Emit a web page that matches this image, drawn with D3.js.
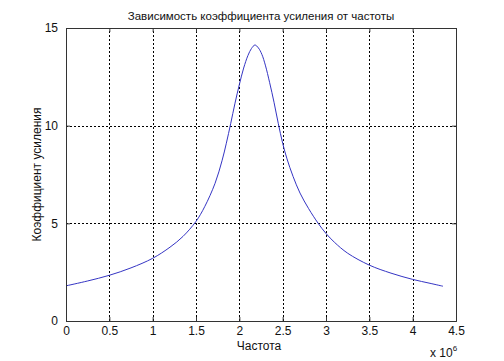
<!DOCTYPE html>
<html>
<head>
<meta charset="utf-8">
<script src="https://cdn.jsdelivr.net/npm/d3@7"></script>
<style>
  body { margin: 0; background: #fff; }
  svg text { font-family: "Liberation Sans", Arial, sans-serif; fill: #111; }
</style>
</head>
<body>
<div id="chart"></div>
<script>
// frequency in units of 1e6, gain
const freq = [0, 0.25, 0.5, 0.75, 1.0, 1.2, 1.35, 1.5, 1.6, 1.72, 1.8, 1.85, 1.9, 1.95, 2.0, 2.05,
  2.1, 2.14, 2.18, 2.22, 2.26, 2.3, 2.35, 2.4, 2.45, 2.5, 2.55, 2.62, 2.7, 2.8, 2.91, 3.0,
  3.1, 3.25, 3.5, 3.75, 4.0, 4.2, 4.35];
const gain = [1.80, 2.05, 2.34, 2.72, 3.21, 3.78, 4.33, 5.1, 5.85, 7.05, 8.2, 9.1, 10.1, 11.15, 12.1, 12.95,
  13.6, 13.95, 14.13, 13.98, 13.65, 13.1, 12.2, 11.2, 10.1, 9.1, 8.3, 7.4, 6.55, 5.75, 5.0, 4.48,
  4.02, 3.47, 2.86, 2.45, 2.13, 1.93, 1.78];

const xTicks = [0, 0.5, 1, 1.5, 2, 2.5, 3, 3.5, 4, 4.5];
const yTicks = [0, 5, 10, 15];

const title = 'Зависимость коэффициента усиления от частоты';
const xLabel = 'Частота';
const yLabel = 'Коэффициент усиления';

const width = 504;
const height = 361;
const margin = { top: 28, right: 48, bottom: 40, left: 66 };

const svg = d3.select('#chart')
  .append('svg')
  .attr('width', width)
  .attr('height', height);

const xScale = d3.scaleLinear().domain([0, 4.5]).range([margin.left, width - margin.right]);
const yScale = d3.scaleLinear().domain([0, 15]).range([height - margin.bottom, margin.top]);

// grid
const grid = svg.append('g')
  .attr('stroke', '#000')
  .attr('stroke-width', 1)
  .attr('stroke-dasharray', '2,2');

grid.selectAll('line.vx')
  .data(xTicks.slice(1, -1))
  .join('line')
  .attr('x1', (d) => Math.round(xScale(d)) + 0.5)
  .attr('x2', (d) => Math.round(xScale(d)) + 0.5)
  .attr('y1', yScale(0))
  .attr('y2', yScale(15));

grid.selectAll('line.hy')
  .data(yTicks.slice(1, -1))
  .join('line')
  .attr('y1', (d) => Math.round(yScale(d)) + 0.5)
  .attr('y2', (d) => Math.round(yScale(d)) + 0.5)
  .attr('x1', xScale(0))
  .attr('x2', xScale(4.5));

// curve
const line = d3.line()
  .x((d, i) => xScale(freq[i]))
  .y((d) => yScale(d))
  .curve(d3.curveCatmullRom.alpha(0.5));

svg.append('path')
  .datum(gain)
  .attr('fill', 'none')
  .attr('stroke', '#3535c4')
  .attr('stroke-width', 1)
  .attr('d', line);

// axes with inward ticks
const xAxis = d3.axisBottom(xScale).tickValues(xTicks).tickSize(-4).tickPadding(8)
  .tickFormat(d3.format('~g'));
const yAxis = d3.axisLeft(yScale).tickValues(yTicks).tickSize(-4).tickPadding(8);

const gx = svg.append('g')
  .attr('transform', `translate(0, ${yScale(0)})`)
  .call(xAxis);
const gy = svg.append('g')
  .attr('transform', `translate(${xScale(0)}, 0)`)
  .call(yAxis);

svg.append('g')
  .attr('transform', `translate(0, ${yScale(15)})`)
  .call(d3.axisTop(xScale).tickValues(xTicks).tickSize(-4).tickFormat(''));
svg.append('g')
  .attr('transform', `translate(${xScale(4.5)}, 0)`)
  .call(d3.axisRight(yScale).tickValues(yTicks).tickSize(-4).tickFormat(''));

svg.selectAll('.domain').attr('stroke', '#333');
svg.selectAll('.tick line').attr('stroke', '#333');
svg.selectAll('.tick text')
  .attr('font-family', '"Liberation Sans", Arial, sans-serif')
  .attr('font-size', 12)
  .attr('fill', '#111');
gx.selectAll('.tick text').attr('dy', '0.5em');

// labels
svg.append('text')
  .attr('x', (xScale(0) + xScale(4.5)) / 2)
  .attr('y', 20)
  .attr('text-anchor', 'middle')
  .attr('font-size', 11.5)
  .text(title);

svg.append('text')
  .attr('x', (xScale(0) + xScale(4.5)) / 2 - 2)
  .attr('y', 350)
  .attr('text-anchor', 'middle')
  .attr('font-size', 12)
  .text(xLabel);

svg.append('text')
  .attr('transform', `translate(41, ${(yScale(0) + yScale(15)) / 2}) rotate(-90)`)
  .attr('text-anchor', 'middle')
  .attr('font-size', 12)
  .text(yLabel);

const mult = svg.append('text')
  .attr('x', 430)
  .attr('y', 357)
  .attr('font-size', 12);
mult.append('tspan').text('x 10');
mult.append('tspan').attr('dy', -6).attr('font-size', 8).text('6');
</script>
</body>
</html>
